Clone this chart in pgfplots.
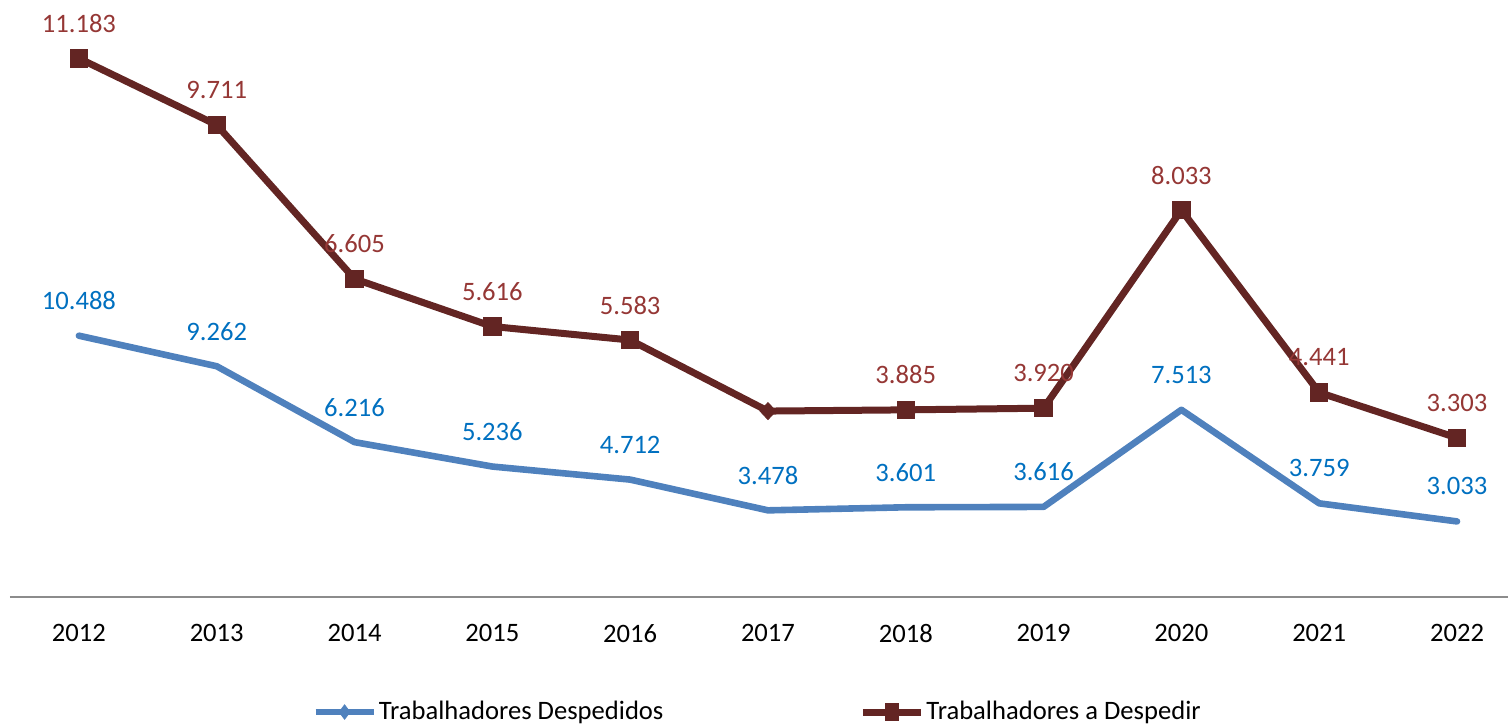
\documentclass[border=0pt]{standalone}
\usepackage{fontspec}
\setmainfont{Carlito}
\usepackage{pgfplots}
\pgfplotsset{compat=1.18}

\definecolor{linhaazul}{HTML}{4F81BD}
\definecolor{textoazul}{HTML}{0070C0}
\definecolor{linhavermelha}{HTML}{632523}
\definecolor{textovermelho}{HTML}{953735}

% posicao = valor, rotulo = valor escrito no grafico
\pgfplotstableread{
x ano despedidos adespedir rotulo
0 2012 10488 11183 11183
1 2013 9262 9800 9711
2 2014 6216 6605 6605
3 2015 5236 5616 5616
4 2016 4712 5335 5583
5 2017 3478 3860 3969
6 2018 3601 3885 3885
7 2019 3616 3920 3920
8 2020 7513 8033 8033
9 2021 3759 4245 4441
10 2022 3033 3303 3303
}\dados

\begin{document}
\begin{tikzpicture}[font=\fontsize{13.3}{15}\selectfont]
\useasboundingbox (-5pt,-64.5pt) rectangle (749pt,298.5pt);

\pgfplotsset{
  base/.style={
    at={(0,0)}, anchor=south west,
    scale only axis, width=749pt, height=289pt,
    xmin=-0.5, xmax=10.37, ymin=0,
    clip=false,
    /pgf/number format/assume math mode=true,
    /pgf/number format/1000 sep={.},
    every node near coord/.append style={anchor=center, yshift=17.5pt, font=\fontsize{13.3}{15}\selectfont},
  },
}

% eixo secundario: trabalhadores despedidos
\begin{axis}[base,
    ymax=23200,
    axis x line*=bottom, axis y line=none,
    x axis line style={draw=gray!90, line width=0.8pt, -},
    xtick={0,...,10},
    xticklabels={2012,2013,2014,2015,2016,2017,2018,2019,2020,2021,2022},
    major tick length=0pt,
    xticklabel style={yshift=-10pt},
    ytick=\empty,
]
\addplot[linhaazul, line width=3.3pt, line cap=round, line join=round, mark=none,
    nodes near coords, every node near coord/.append style={textoazul}]
    table[x=x, y=despedidos] {\dados};
\end{axis}

% eixo principal: trabalhadores a despedir
\begin{axis}[base,
    ymax=12000,
    hide axis,
    legend columns=2,
    legend style={at={(0.499,-0.199)}, anchor=center, draw=none, fill=none,
      nodes={inner xsep=1pt}},
    /tikz/every even column/.append style={column sep=97pt},
    legend image code/.code={
      \draw[mark repeat=2, mark phase=2, #1] plot coordinates {(0pt,0pt) (14.5pt,0pt) (29pt,0pt)};
    },
]
\addlegendimage{linhaazul, line width=3.3pt, mark=diamond*, mark size=3.6pt,
    mark options={solid, line width=0.4pt, line join=miter}}
\addlegendentry{Trabalhadores Despedidos}
\addlegendimage{linhavermelha, line width=3.5pt, mark=square*, mark size=3.2pt,
    mark options={solid, line width=0.4pt, line join=miter, yscale=1.3}}
\addlegendentry{Trabalhadores a Despedir}

\addplot[forget plot, linhavermelha, line width=3.5pt, line join=round,
    mark=square*, mark size=4.35pt, mark indices={1,2,3,4,5,7,8,9,10,11},
    mark options={line width=0.5pt, line join=miter},
    point meta=explicit,
    nodes near coords, every node near coord/.append style={textovermelho}]
    table[x=x, y=adespedir, meta=rotulo] {\dados};
\addplot[forget plot, only marks, linhavermelha, mark=diamond*, mark size=4.25pt,
    mark options={xscale=1.25, line join=miter}]
    coordinates {(5,3860)};
\end{axis}
\end{tikzpicture}
\end{document}
